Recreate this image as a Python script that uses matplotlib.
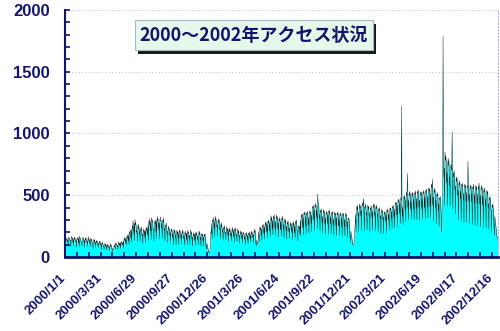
import matplotlib
matplotlib.use("Agg")
import matplotlib.pyplot as plt
from matplotlib.patches import Rectangle
from matplotlib.ticker import FixedLocator, MultipleLocator, NullFormatter
from matplotlib.transforms import ScaledTranslation
import numpy as np
import pandas as pd

plt.rcParams['font.family'] = ['Liberation Sans', 'DejaVu Sans']

# daily access counts, one row per week (Sat..Fri)
visits_2000 = [
    108, 78, 120, 145, 150, 138, 125,
    145, 88, 162, 148, 155, 140, 130,
    138, 84, 150, 168, 142, 155, 118,
    142, 92, 158, 140, 161, 137, 122,
    132, 80, 145, 152, 139, 160, 110,
    150, 85, 170, 148, 150, 133, 127,
    126, 90, 138, 160, 144, 152, 115,
    136, 76, 152, 135, 158, 140, 120,
    130, 88, 142, 165, 130, 146, 112,
    134, 82, 150, 132, 148, 125, 118,
    116, 70, 128, 145, 120, 138, 105,
    120, 78, 135, 118, 130, 112, 98,
    110, 74, 122, 130, 108, 125, 95,
    104, 58, 115, 102, 120, 98, 88,
    90, 60, 98, 110, 92, 105, 80,
    94, 55, 104, 88, 96, 90, 72,
    84, 50, 92, 108, 85, 98, 75,
    58, 45, 70, 62, 66, 88, 80,
    102, 64, 115, 98, 110, 102, 85,
    96, 58, 105, 124, 96, 112, 90,
    115, 68, 128, 110, 120, 105, 95,
    126, 72, 140, 158, 132, 148, 110,
    150, 95, 165, 150, 178, 160, 130,
    185, 102, 205, 188, 220, 176, 150,
    225, 118, 250, 228, 295, 240, 190,
    270, 132, 305, 260, 278, 235, 200,
    215, 125, 240, 268, 225, 250, 185,
    208, 128, 230, 210, 245, 198, 170,
    186, 110, 205, 228, 190, 215, 160,
    212, 118, 238, 212, 240, 205, 175,
    260, 135, 290, 260, 310, 275, 210,
    285, 142, 320, 285, 300, 268, 220,
    225, 128, 250, 290, 265, 300, 205,
    295, 150, 330, 295, 310, 282, 225,
    275, 148, 305, 325, 290, 298, 230,
    270, 150, 300, 280, 318, 270, 215,
    235, 128, 260, 245, 275, 238, 190,
    212, 115, 235, 250, 218, 228, 175,
    198, 118, 220, 205, 232, 198, 160,
    190, 100, 210, 225, 190, 215, 158,
    176, 98, 195, 218, 182, 205, 150,
    198, 105, 220, 198, 212, 185, 155,
    185, 108, 205, 190, 222, 176, 148,
    170, 94, 188, 210, 175, 195, 140,
    192, 100, 215, 192, 205, 180, 150,
    178, 102, 198, 220, 185, 200, 145,
    162, 88, 180, 195, 170, 188, 135,
    184, 95, 205, 178, 196, 172, 142,
    170, 98, 190, 212, 180, 198, 138,
    160, 86, 178, 192, 168, 185, 130,
    165, 92, 185, 170, 188, 160, 125,
    70, 62, 110, 95, 78, 60, 48,
    38, 32,
]

visits_2001 = [
    35, 60, 150, 210, 190,
    270, 150, 300, 285, 320, 270, 230,
    295, 168, 330, 295, 310, 280, 240,
    262, 170, 290, 310, 270, 300, 225,
    240, 145, 265, 240, 280, 235, 200,
    216, 135, 240, 220, 255, 210, 185,
    205, 138, 225, 245, 210, 232, 175,
    214, 122, 238, 205, 225, 200, 170,
    195, 130, 215, 240, 200, 225, 165,
    207, 118, 230, 210, 238, 195, 168,
    185, 126, 205, 228, 190, 215, 160,
    176, 112, 195, 210, 185, 205, 150,
    180, 115, 200, 185, 198, 175, 145,
    166, 100, 185, 200, 172, 190, 140,
    175, 108, 195, 180, 205, 170, 150,
    190, 122, 210, 190, 200, 185, 155,
    185, 115, 205, 225, 195, 215, 160,
    100, 90, 140, 120, 110, 105, 130,
    205, 125, 230, 245, 220, 238, 175,
    228, 135, 255, 240, 268, 230, 190,
    245, 145, 270, 285, 250, 278, 200,
    262, 155, 290, 275, 300, 265, 210,
    280, 165, 310, 335, 290, 318, 225,
    298, 180, 330, 310, 345, 300, 235,
    288, 172, 320, 340, 305, 325, 230,
    275, 160, 305, 290, 320, 285, 220,
    285, 170, 315, 300, 330, 295, 225,
    262, 150, 290, 310, 275, 300, 215,
    252, 145, 280, 265, 295, 260, 205,
    235, 148, 260, 280, 250, 270, 200,
    248, 140, 275, 255, 285, 250, 195,
    262, 155, 290, 270, 300, 265, 210,
    215, 130, 240, 255, 230, 245, 190,
    298, 170, 330, 345, 320, 350, 240,
    315, 175, 350, 365, 340, 360, 250,
    325, 185, 360, 340, 370, 345, 260,
    320, 195, 355, 375, 350, 365, 270,
    342, 205, 380, 410, 395, 420, 300,
    378, 215, 420, 400, 435, 410, 320,
    380, 230, 510, 440, 425, 400, 310,
    342, 210, 380, 360, 390, 350, 280,
    330, 195, 365, 385, 355, 370, 270,
    315, 180, 350, 370, 345, 360, 265,
    338, 185, 375, 355, 380, 340, 270,
    325, 188, 360, 345, 370, 335, 260,
    310, 170, 345, 365, 340, 355, 255,
    320, 172, 355, 340, 365, 330, 250,
    306, 175, 340, 360, 335, 350, 245,
    315, 168, 350, 335, 355, 325, 250,
    306, 170, 340, 355, 330, 345, 240,
    288, 155, 320, 300, 310, 285, 220,
    150, 120, 210, 180, 160, 140, 115,
    100, 95, 105,
]

visits_2002 = [
    110, 150, 230, 280,
    350, 200, 390, 410, 380, 420, 330,
    360, 205, 400, 430, 395, 415, 335,
    378, 215, 420, 440, 410, 430, 475,
    370, 210, 410, 395, 430, 405, 340,
    360, 220, 400, 420, 390, 410, 330,
    355, 200, 395, 380, 415, 390, 320,
    370, 215, 410, 425, 400, 430, 335,
    365, 210, 405, 390, 420, 385, 325,
    350, 200, 390, 375, 400, 370, 310,
    333, 190, 370, 385, 360, 375, 300,
    325, 185, 360, 345, 370, 340, 290,
    342, 195, 380, 360, 390, 355, 300,
    346, 220, 385, 400, 375, 395, 310,
    370, 230, 410, 395, 420, 390, 320,
    388, 235, 430, 445, 420, 440, 340,
    414, 245, 460, 440, 470, 450, 350,
    432, 270, 480, 460, 1225, 420, 330,
    405, 260, 450, 490, 470, 500, 380,
    468, 290, 520, 500, 540, 677, 400,
    460, 305, 510, 530, 495, 520, 390,
    450, 310, 500, 525, 490, 515, 385,
    468, 300, 520, 505, 535, 510, 395,
    477, 300, 530, 515, 545, 520, 400,
    460, 295, 510, 530, 500, 525, 390,
    472, 310, 525, 510, 540, 515, 395,
    486, 305, 540, 520, 550, 525, 405,
    490, 315, 545, 560, 530, 555, 410,
    513, 320, 570, 590, 560, 630, 420,
    486, 290, 540, 555, 520, 545, 400,
    460, 270, 510, 495, 520, 490, 380,
    432, 250, 480, 465, 490, 455, 360,
    215, 205, 440, 480, 1790, 820, 650,
    720, 420, 850, 780, 820, 760, 600,
    685, 410, 760, 800, 740, 780, 580,
    650, 415, 720, 750, 700, 730, 1016,
    612, 390, 680, 650, 700, 660, 540,
    575, 350, 640, 610, 650, 600, 500,
    540, 300, 600, 580, 620, 570, 470,
    530, 290, 590, 570, 600, 560, 460,
    513, 275, 570, 590, 560, 580, 450,
    522, 285, 580, 560, 775, 570, 455,
    505, 270, 560, 585, 550, 575, 445,
    513, 265, 570, 550, 590, 545, 440,
    505, 255, 560, 580, 545, 570, 430,
    513, 250, 570, 550, 600, 545, 430,
    500, 245, 555, 580, 540, 565, 420,
    490, 240, 545, 525, 560, 520, 410,
    468, 235, 520, 540, 510, 530, 400,
    432, 225, 480, 460, 490, 455, 380,
    378, 205, 420, 400, 430, 390, 330,
    250, 170, 330, 300, 260, 240, 200,
    170, 160, 155, 140,
]

title = "2000～2002年アクセス状況"
navy = "#14146e"

visits = np.array(visits_2000 + visits_2001 + visits_2002)
dates = pd.date_range("2000-01-01", periods=len(visits), freq="D")
days = np.arange(len(visits))

fig = plt.figure(figsize=(5.0, 3.31), dpi=100)
ax = fig.add_axes([0.13, 0.2236, 0.866, 0.7462])

ax.fill_between(days, visits, 0, color="#00ffff", linewidth=0)
ax.plot(days, visits, color="black", linewidth=0.28)

ax.set_xlim(0, len(visits) - 1)
ax.set_ylim(0, 2000)

# y axis: labels every 500, small ticks every 100
ax.yaxis.set_major_locator(MultipleLocator(500))
ax.yaxis.set_minor_locator(MultipleLocator(100))
ax.grid(axis="y", which="major", color="#c4c4f0", linestyle=(0, (1, 2)), linewidth=0.8)

# x axis: ticks every 30 days, dated labels every 90
label_days = days[::90]
ax.xaxis.set_major_locator(FixedLocator(days[::30]))
ax.xaxis.set_major_formatter(NullFormatter())

ax.tick_params(axis="both", which="both", direction="in", color=navy, width=1.2, length=3.5)
ax.tick_params(axis="y", which="major", labelsize=12, labelcolor=navy, pad=11)
for lbl in ax.get_yticklabels():
    lbl.set_fontweight("bold")

shift = ScaledTranslation(-5 / 100, -15 / 100, fig.dpi_scale_trans)
for d in label_days:
    day = dates[d]
    ax.text(d, 0, f"{day.year}/{day.month}/{day.day}", transform=ax.get_xaxis_transform() + shift,
            rotation=45, rotation_mode="anchor", ha="right", va="top",
            fontsize=9.5, fontweight="bold", color=navy)

ax.spines["top"].set_visible(False)
ax.spines["left"].set_color(navy)
ax.spines["left"].set_linewidth(1.5)
ax.spines["bottom"].set_color(navy)
ax.spines["bottom"].set_linewidth(2)
ax.spines["right"].set_color("#b0b0ee")
ax.spines["right"].set_linestyle((0, (1, 2)))
ax.spines["right"].set_linewidth(0.8)

# title panel with a drop shadow
fig.patches.append(Rectangle((0.276, 0.838), 0.476, 0.0906, transform=fig.transFigure,
                             facecolor="#1a1a1a", edgecolor="none", zorder=5))
fig.patches.append(Rectangle((0.27, 0.849), 0.476, 0.0906, transform=fig.transFigure,
                             facecolor="#e6f8ea", edgecolor="#a8b8d0", linewidth=0.8, zorder=6))
fig.text(0.508, 0.894, title, ha="center", va="center", fontsize=13, fontweight="bold",
         color=navy, family=["Noto Sans CJK JP", "DejaVu Sans"], zorder=7)

fig.savefig("out.png", dpi=100)
